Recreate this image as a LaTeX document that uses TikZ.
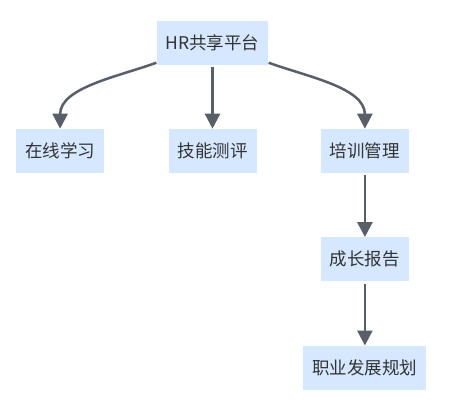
\documentclass[tikz,border=0pt]{standalone}
\usepackage{fontspec}
\setmainfont{Noto Sans CJK SC}
\usetikzlibrary{positioning,arrows.meta}
\definecolor{nodefill}{RGB}{214,232,255}
\definecolor{ink}{RGB}{51,51,51}
\definecolor{edge}{RGB}{88,95,105}
\tikzset{
  box/.style={fill=nodefill, draw=none, align=center, text=ink,
              font=\fontsize{17.5}{21}\selectfont,
              minimum height=44pt, inner xsep=9pt},
  arr/.style={-{Triangle[length=15pt, width=15pt]}, line width=2.5pt, draw=edge},
}

\begin{document}
\begin{tikzpicture}[node distance=64pt and 64pt]
  \useasboundingbox (0,0) rectangle (449pt,-405pt);
  \node[box] (hr) at (212.5pt,-42.5pt) {HR共享平台};
  \node[box, below=of hr] (jineng) {技能测评};
  \node[box, left=of jineng] (zaixian) {在线学习};
  \node[box, right=of jineng] (peixun) {培训管理};
  \node[box, below=of peixun] (chengzhang) {成长报告};
  \node[box, below=of chengzhang] (zhiye) {职业发展规划};

  \draw[arr] ([yshift=2pt]hr.south west) to[out=200, in=90, looseness=0.9] (zaixian.north);
  \draw[arr] ([yshift=-2pt]hr.south) -- (jineng.north);
  \draw[arr] ([yshift=2pt]hr.south east) to[out=-20, in=90, looseness=0.9] (peixun.north);
  \draw[arr] ([yshift=-2pt]peixun.south) -- (chengzhang.north);
  \draw[arr] ([yshift=-2pt]chengzhang.south) -- (zhiye.north);
\end{tikzpicture}
\end{document}
